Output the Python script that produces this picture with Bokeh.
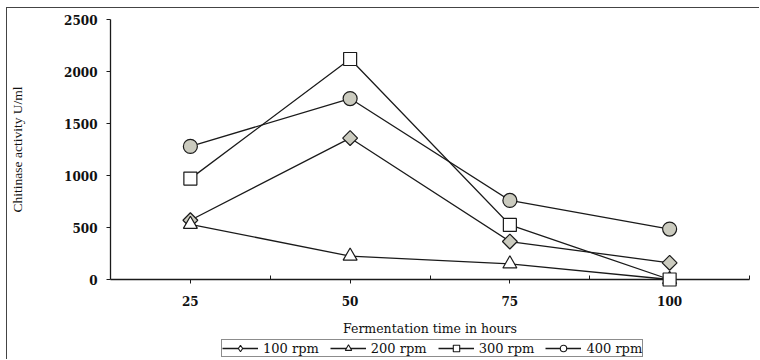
import math
from bokeh.plotting import figure
from bokeh.layouts import column
from bokeh.models import Range1d, FixedTicker, Legend, LegendItem
from bokeh.embed import file_html
from bokeh.resources import INLINE

# ---- data ----
hours = [25, 50, 75, 100]
rpm100 = [570, 1360, 365, 160]
rpm200 = [530, 225, 150, 0]
rpm300 = [970, 2120, 525, 0]
rpm400 = [1280, 1740, 760, 485]
series_labels = ["100 rpm", "200 rpm", "300 rpm", "400 rpm"]
x_ticks = [25, 50, 75, 100]
x_minor_ticks = [37.5, 62.5, 87.5, 112.5]
y_ticks = [0, 500, 1000, 1500, 2000, 2500]

INK = "#1a1a1a"
GRAY = "#cbcbbf"

p = figure(width=752, height=331, output_backend="svg", toolbar_location=None,
           x_range=Range1d(12.5, 112.5), y_range=Range1d(0, 2500),
           min_border_left=100, min_border_right=10, min_border_top=11,
           min_border_bottom=60)
p.grid.visible = False
p.outline_line_color = None
p.background_fill_color = "white"
p.border_fill_color = "white"

# axes
for ax in (p.xaxis[0], p.yaxis[0]):
    ax.axis_line_color = INK
    ax.axis_line_width = 1.3
    ax.major_tick_line_color = INK
    ax.minor_tick_line_color = INK
    ax.major_tick_line_width = 1
    ax.minor_tick_line_width = 1
    ax.major_label_text_font = "DejaVu Serif"
    ax.major_label_text_font_style = "bold"
    ax.major_label_text_font_size = "12px"
    ax.major_label_text_color = "#111"
    ax.axis_label_text_color = "#111"
    ax.axis_label_text_font_style = "normal"

p.xaxis.ticker = FixedTicker(ticks=x_ticks, minor_ticks=x_minor_ticks)
p.xaxis.major_tick_in = 0
p.xaxis.major_tick_out = 4
p.xaxis.minor_tick_in = 4
p.xaxis.minor_tick_out = 0
p.xaxis.major_label_standoff = 12
p.xaxis.axis_label = "Fermentation time in hours"
p.xaxis.axis_label_text_font = "DejaVu Serif"
p.xaxis.axis_label_text_font_size = "12.5px"
p.xaxis.axis_label_standoff = 12

p.yaxis.ticker = FixedTicker(ticks=y_ticks, minor_ticks=[])
p.yaxis.major_tick_in = 0
p.yaxis.major_tick_out = 4
p.yaxis.minor_tick_in = 0
p.yaxis.minor_tick_out = 0
p.yaxis.major_label_standoff = 9
p.yaxis.axis_label = "Chitinase activity U/ml"
p.yaxis.axis_label_text_font = "Liberation Serif"
p.yaxis.axis_label_text_font_size = "13.5px"
p.yaxis.axis_label_standoff = 36

# legend strip (separate small figure whose frame holds the legend;
# its ranges keep the series out of view, only the legend shows)
q = figure(width=752, height=20, output_backend="svg", toolbar_location=None,
           x_range=Range1d(0, 1), y_range=Range1d(-10000, -9000),
           x_axis_location=None, y_axis_location=None,
           min_border_left=0, min_border_right=0, min_border_top=0,
           min_border_bottom=0)
q.grid.visible = False
q.outline_line_color = None
q.background_fill_color = "white"
q.border_fill_color = "white"

# series
styles = [
    dict(marker="square", size=10.5, angle=math.pi / 4, fill_color=GRAY, legend_marker="diamond"),
    dict(marker="triangle", size=14, angle=0, fill_color="white", legend_marker="triangle"),
    dict(marker="square", size=13, angle=0, fill_color="white", legend_marker="square"),
    dict(marker="circle", size=14, angle=0, fill_color=GRAY, legend_marker="circle"),
]
items = []
for vals, lab, st in zip([rpm100, rpm200, rpm300, rpm400], series_labels, styles):
    p.line(hours, vals, line_color=INK, line_width=1.3, level="overlay")
    p.scatter(hours, vals, marker=st["marker"], size=st["size"],
              angle=st["angle"], fill_color=st["fill_color"],
              line_color=INK, line_width=1.2, level="overlay")
    ln = q.line(hours, vals, line_color=INK, line_width=1.3)
    mk = q.scatter(hours, vals, marker=st["legend_marker"], size=st["size"],
                   fill_color="white", line_color=INK, line_width=1.1)
    items.append(LegendItem(label=lab, renderers=[ln, mk]))

legend = Legend(items=items, orientation="horizontal", location=(111, 2),
                glyph_width=36, glyph_height=16, label_height=16,
                label_standoff=5, spacing=11, padding=0, margin=0,
                label_text_font="DejaVu Serif", label_text_font_size="13px",
                label_text_color="#111",
                border_line_color=INK, border_line_width=1.2,
                background_fill_color="white", background_fill_alpha=1.0)
q.add_layout(legend)

page = column(p, q, spacing=0)
page.styles = {"margin-left": "6px", "margin-top": "7px",
               "border-left": "1px solid #444", "border-top": "1px solid #444"}

open("out.html", "w").write(file_html(page, INLINE))
